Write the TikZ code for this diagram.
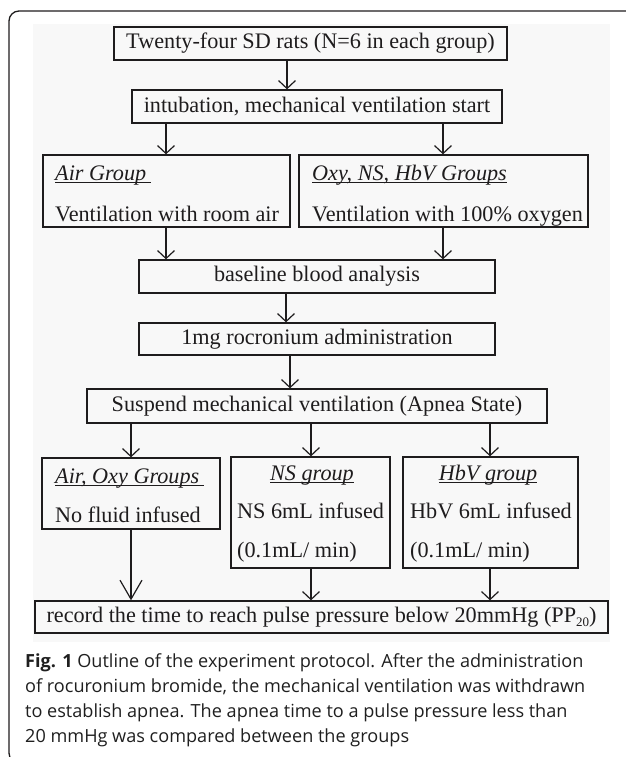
\documentclass[tikz,border=0pt]{standalone}
\usepackage{fontspec}
\setmainfont{Liberation Serif}
\newfontfamily\capfont{Open Sans}
\usetikzlibrary{arrows.meta}
\definecolor{ink}{RGB}{30,28,29}
\definecolor{figbg}{RGB}{248,248,248}
\newcommand\myul[2][0pt]{\setbox0\hbox{#2\kern#1}\rlap{\color{ink}\rule[-3.2pt]{\wd0}{1pt}}\box0}
\tikzset{
  boxx/.style={draw=ink, line width=1.3pt, inner sep=0pt, text=ink,
    font=\fontsize{22.2}{26}\selectfont},
  txt/.style={inner sep=0pt, anchor=base west, text=ink,
    font=\fontsize{22.2}{26}\selectfont},
  txtc/.style={txt, anchor=base},
  arr/.style={draw=ink, line width=1.2pt, -{Straight Barb[length=8pt,width=17pt,line width=1.2pt]}},
  bigarr/.style={draw=ink, line width=1.2pt, -{Straight Barb[length=19pt,width=22pt,line width=1.2pt]}},
  captxt/.style={inner sep=0pt, anchor=base west, text=black!88,
    font=\capfont\fontsize{18.1}{20}\selectfont}
}
\begin{document}
\begin{tikzpicture}[x=1pt,y=-1pt]
\useasboundingbox (0,0) rectangle (625,757);
% outer frame
\draw[ink, line width=1.3pt, rounded corners=10pt] (9,11) rectangle (650,763);
\fill[figbg] (33,24) rectangle (610,642);
% boxes
\node[boxx, minimum width=393pt, minimum height=33pt] (b1) at (310.5,43.5) {Twenty-four SD rats (N=6 in each group)};
\node[boxx, minimum width=370pt, minimum height=33pt] (b2) at (317,106.5) {intubation, mechanical ventilation start};
\node[boxx, minimum width=247pt, minimum height=72pt] (air) at (166.5,191) {};
\node[boxx, minimum width=289pt, minimum height=72pt] (oxy) at (443.5,191) {};
\node[txt] (airh) at (55,180) {\itshape\myul[5pt]{Air Group}};
\node[txt] (airt) at (55,221) {Ventilation with room air};
\node[txt] (oxyh) at (312,180) {\itshape\myul{Oxy, NS, HbV Groups}};
\node[txt] (oxyt) at (312,221) {Ventilation with 100\% oxygen};
\node[boxx, minimum width=356pt, minimum height=33pt] (base) at (317,276.5) {baseline blood analysis};
\node[boxx, minimum width=356pt, minimum height=32pt] (roc) at (317,339) {1mg rocronium administration};
\node[boxx, minimum width=460pt, minimum height=34pt] (susp) at (317,406) {Suspend mechanical ventilation (Apnea State)};
\node[boxx, minimum width=178pt, minimum height=71pt] (ao) at (131,493.5) {};
\node[boxx, minimum width=159pt, minimum height=111pt] (ns) at (310.5,512.5) {};
\node[boxx, minimum width=175pt, minimum height=111pt] (hbv) at (490.5,512.5) {};
\node[txt] (aoh) at (55,483) {\itshape\myul[5pt]{Air, Oxy Groups}};
\node[txt] (aot) at (55,522) {No fluid infused};
\node[txtc] (nsh) at (312,480) {\itshape\myul{NS group}};
\node[txt] (nst1) at (237,518) {NS 6mL infused};
\node[txt] (nst2) at (237,557) {(0.1mL/ min)};
\node[txtc] (hbvh) at (488,480) {\itshape\myul{HbV group}};
\node[txt] (hbvt1) at (410,518) {HbV 6mL infused};
\node[txt] (hbvt2) at (410,557) {(0.1mL/ min)};
\node[boxx, minimum width=573pt, minimum height=32pt] (rec) at (321.5,617) {record the time to reach pulse pressure below 20mmHg (PP\raisebox{-4pt}{\fontsize{13}{13}\selectfont 20})};
% x positions of connectors
\coordinate (xa) at (287,0);
\coordinate (xl) at (166,0);
\coordinate (xr) at (443,0);
\coordinate (xb) at (286,0);
\coordinate (xc) at (290,0);
\coordinate (x1) at (131,0);
\coordinate (x2) at (311,0);
\coordinate (x3) at (490,0);
% connectors
\draw[arr] (b1.south -| xa) -- (b2.north -| xa);
\draw[arr] (b2.south -| xl) -- (air.north -| xl);
\draw[arr] (b2.south -| xr) -- (oxy.north -| xr);
\draw[arr] (air.south -| xl) -- (base.north -| xl);
\draw[arr] (oxy.south -| xr) -- (base.north -| xr);
\draw[arr] (base.south -| xb) -- (roc.north -| xb);
\draw[arr] (roc.south -| xc) -- (susp.north -| xc);
\draw[arr] (susp.south -| x1) -- (ao.north -| x1);
\draw[arr] (susp.south -| x2) -- (ns.north -| x2);
\draw[arr] (susp.south -| x3) -- (hbv.north -| x3);
\draw[bigarr] (ao.south -| x1) -- (rec.north -| x1);
\draw[arr] (ns.south -| x2) -- (rec.north -| x2);
\draw[arr] (hbv.south -| x3) -- (rec.north -| x3);
% caption
\node[captxt] (c1) at (25,667) {\textbf{Fig. 1} Outline of the experiment protocol. After the administration};
\node[captxt] (c2) at (25,692) {of rocuronium bromide, the mechanical ventilation was withdrawn};
\node[captxt] (c3) at (25,717) {to establish apnea. The apnea time to a pulse pressure less than};
\node[captxt] (c4) at (25,742) {20 mmHg was compared between the groups};
\end{tikzpicture}
\end{document}
